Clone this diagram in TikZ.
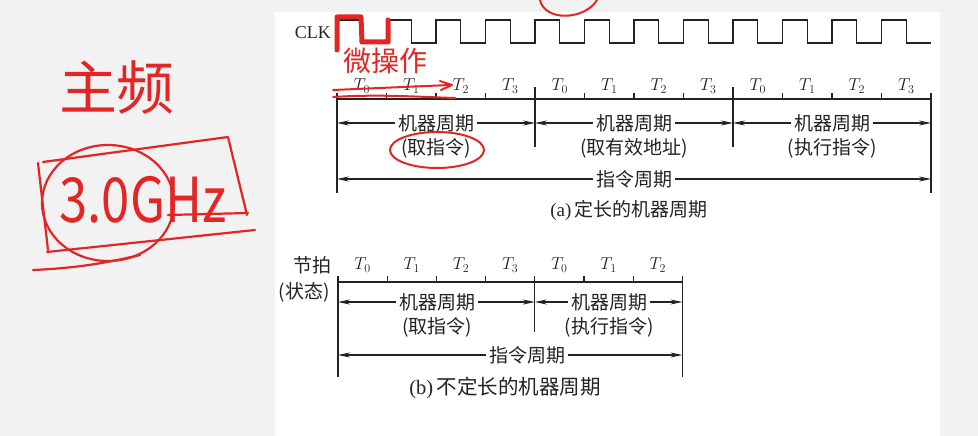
\documentclass[tikz,border=0pt]{standalone}
\usepackage{fontspec}
\usepackage{graphicx}
\setmainfont{Liberation Serif}
\newfontfamily\cjk{Noto Sans CJK SC}
\usetikzlibrary{arrows.meta}
\definecolor{annot}{RGB}{226,38,38}
\definecolor{bggray}{RGB}{242,242,242}
\definecolor{ink}{RGB}{35,35,35}
\begin{document}
\begin{tikzpicture}[x=1pt,y=-1pt,
  lbl/.style={inner sep=3pt, font=\cjk\fontsize{19}{21}\selectfont, text=ink},
  tlbl/.style={inner sep=0pt, font=\fontsize{18}{20}\selectfont, text=ink},
  ln/.style={draw=ink, line width=1.2pt},
  arr/.style={draw=ink, line width=1.1pt, -{Stealth[length=12pt,width=5pt]}},
  redpen/.style={draw=annot, line width=2.6pt, line cap=round, line join=round},
  redtext/.style={text=annot, inner sep=0pt}
]
\fill[bggray] (0,0) rectangle (978,436);
\fill[white] (275,12) rectangle (940,436);
\useasboundingbox (0,0) rectangle (978,436);

% ---------- (a) ----------
\node[tlbl, anchor=east] (clk) at (331,33) {CLK};
\draw[ln] (337,43) \foreach \k in {0,...,11}{ -- ++(0,-23) -- ++(24.75,0) -- ++(0,23) -- ++(24.75,0)};

\coordinate (a0) at (337,99);
\coordinate (a1) at (535,99);
\coordinate (a2) at (733,99);
\coordinate (a3) at (931,99);
\draw[ln] (a0) -- (a3);
\foreach \i in {1,2,3,5,6,7,9,10,11} \draw[ln] ({337+49.5*\i},93) -- ({337+49.5*\i},99);
\draw[ln] (337,93) -- (337,193);
\draw[ln] (931,93) -- (931,193);
\draw[ln] (535,87) -- (535,147);
\draw[ln] (733,87) -- (733,147);
\foreach \i in {0,...,11} {
  \pgfmathtruncatemacro\j{mod(\i,4)}
  \node[tlbl] (ta\i) at ({361.75+49.5*\i},86) {$T_{\j}$};
}

\node[lbl] (ma1) at (436,123) {机器周期};
\node[lbl] (ma2) at (634,123) {机器周期};
\node[lbl] (ma3) at (832,123) {机器周期};
\node[lbl] (sa1) at (436,148) {(取指令)};
\node[lbl] (sa2) at (634,148) {(取有效地址)};
\node[lbl] (sa3) at (832,148) {(执行指令)};
\draw[arr] (ma1.west) -- (ma1.west -| a0);
\draw[arr] (ma1.east) -- (ma1.east -| a1);
\draw[arr] (ma2.west) -- (ma2.west -| a1);
\draw[arr] (ma2.east) -- (ma2.east -| a2);
\draw[arr] (ma3.west) -- (ma3.west -| a2);
\draw[arr] (ma3.east) -- (ma3.east -| a3);

\node[lbl] (ia) at (634,179) {指令周期};
\draw[arr] (ia.west) -- (ia.west -| a0);
\draw[arr] (ia.east) -- (ia.east -| a3);

\node[tlbl, font=\fontsize{19}{21}\selectfont] (capa) at (629,210) {(a)\,{\cjk 定长的机器周期}};

% ---------- (b) ----------
\coordinate (b0) at (338,282);
\coordinate (b1) at (534.8,282);
\coordinate (b2) at (682.4,282);
\draw[ln] (b0) -- (b2);
\foreach \i in {1,2,3,5,6} \draw[ln] ({338+49.2*\i},276) -- ({338+49.2*\i},282);
\draw[ln] (338,276) -- (338,377);
\draw[ln] (682.4,276) -- (682.4,377);
\draw[ln] (534.8,276) -- (534.8,332);
\foreach \i in {0,...,6} {
  \pgfmathtruncatemacro\j{mod(\i,4)}
  \node[tlbl] (tb\i) at ({362.6+49.2*\i},265) {$T_{\j}$};
}
\node[lbl] (jp) at (312,265) {节拍};
\node[lbl] (zt) at (304,292) {(状态)};

\node[lbl] (mb1) at (437,302) {机器周期};
\node[lbl] (mb2) at (609,302) {机器周期};
\node[lbl] (sb1) at (437,327) {(取指令)};
\node[lbl] (sb2) at (609,327) {(执行指令)};
\draw[arr] (mb1.west) -- (mb1.west -| b0);
\draw[arr] (mb1.east) -- (mb1.east -| b1);
\draw[arr] (mb2.west) -- (mb2.west -| b1);
\draw[arr] (mb2.east) -- (mb2.east -| b2);

\node[lbl] (ib) at (527,355) {指令周期};
\draw[arr] (ib.west) -- (ib.west -| b0);
\draw[arr] (ib.east) -- (ib.east -| b2);

\node[tlbl, font=\fontsize{20.5}{22}\selectfont] (capb) at (505,388) {(b)\,{\cjk 不定长的机器周期}};

% ---------- red handwriting ----------
\draw[redpen, line width=5pt] (337,50) -- (337,17) -- (361,17) -- (362,42) -- (388,42) -- (388,20);
\node[redtext, font=\cjk\fontsize{28}{30}\selectfont] (wcz) at (385,61) {微操作};
\draw[redpen, line width=2pt] (333,90) -- (450,85);
\draw[redpen, line width=2pt] (440,81) -- (452,85) -- (441,90);
\draw[redpen, line width=2pt] (333,97) .. controls (380,94) and (420,97) .. (455,98);
\draw[redpen, line width=2pt] (437,150) ellipse (47 and 18);
\draw[redpen, line width=2pt] (540,0) .. controls (545,22) and (585,20) .. (597,0);

\node[redtext, font=\cjk\fontsize{58}{60}\selectfont] (zp) at (117,88) {主频};
\node[redtext, font=\cjk\fontsize{62}{64}\selectfont] (ghz) at (143,200) {\scalebox{0.82}[1]{3.0GHz}};
\draw[redpen, line width=2.2pt] (43,162) -- (228,137) -- (247,215);
\draw[redpen, line width=2.2pt] (168,215) -- (248,213);
\draw[redpen, line width=2.2pt] (38,163) -- (48,250);
\draw[redpen, line width=2.2pt] (47,252) -- (255,230);
\draw[redpen, line width=2.2pt] (33,270) .. controls (80,268) and (110,262) .. (140,255);
\draw[redpen, line width=2.2pt] (108,203) ellipse (66 and 58);
\end{tikzpicture}
\end{document}
